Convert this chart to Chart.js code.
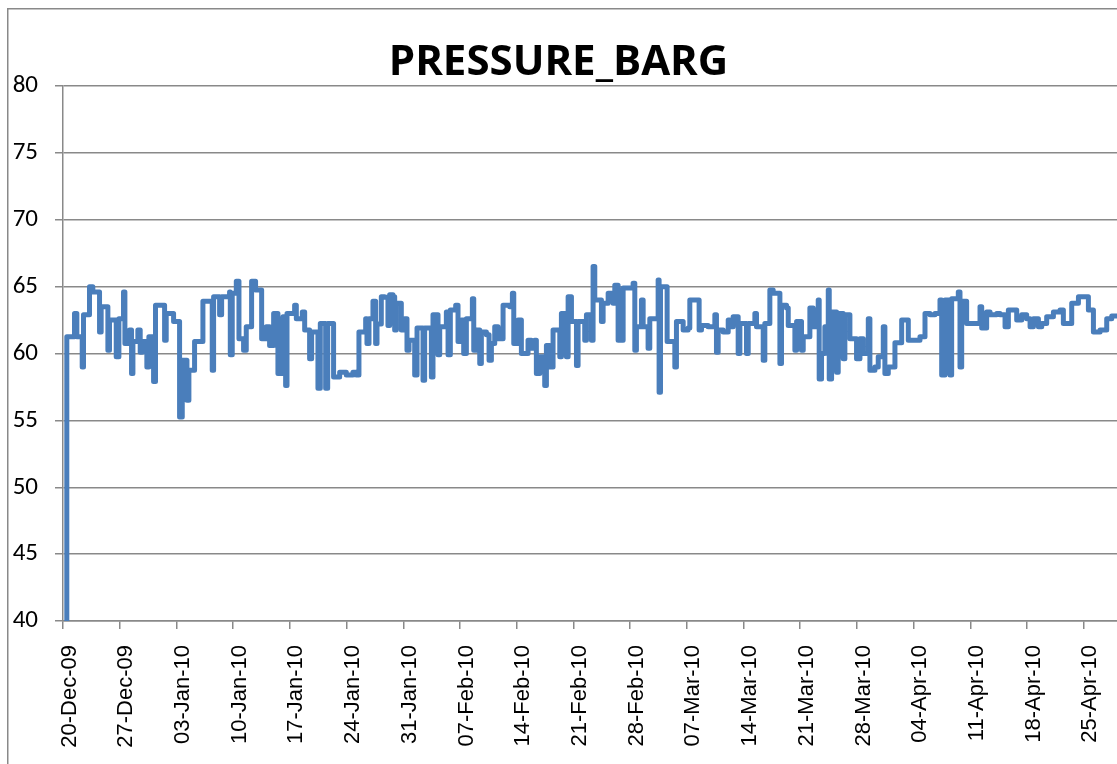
<!DOCTYPE html>
<html><head><meta charset="utf-8">
<script src="https://cdn.jsdelivr.net/npm/chart.js@4.4.1/dist/chart.umd.min.js"></script>
<style>html,body{margin:0;padding:0;background:#fff;}canvas{display:block}</style>
</head><body>
<canvas id="c" width="1117" height="764"></canvas>
<script>
const chartTitle = 'PRESSURE_BARG';
const tickDays = [0,7,14,21,28,35,42,49,56,63,70,77,84,91,98,105,112,119,126];
const tickLabels = ['20-Dec-09','27-Dec-09','03-Jan-10','10-Jan-10','17-Jan-10','24-Jan-10','31-Jan-10','07-Feb-10','14-Feb-10','21-Feb-10','28-Feb-10','07-Mar-10','14-Mar-10','21-Mar-10','28-Mar-10','04-Apr-10','11-Apr-10','18-Apr-10','25-Apr-10'];
const yTicks = [40,45,50,55,60,65,70,75,80];
const xMaxDay = 130.1;

// days since 20-Dec-09 at which each pressure level starts
const days = [
0.45,0.47,1.42,1.71,2.37,2.53,3.27,3.68,4.51,4.71,5.54,5.74,6.57,6.90,7.47,7.64,8.21,8.46,8.63,9.24,
9.53,9.78,10.35,10.60,11.18,11.42,12.54,12.74,13.65,14.39,14.72,15.30,15.54,16.24,17.27,18.42,18.59,19.33,19.58,20.56,
20.65,20.89,21.39,21.72,22.29,22.62,23.28,23.77,24.52,25.09,25.50,26.00,26.53,27.15,27.48,27.65,28.59,28.80,29.54,29.83,
30.44,30.69,31.47,31.76,32.42,32.67,33.40,34.15,34.97,35.79,36.20,36.53,37.36,37.52,37.77,38.26,38.59,38.76,39.29,39.70,
40.11,40.32,40.73,40.94,41.14,41.76,42.17,42.46,42.71,43.41,43.70,44.44,44.64,45.47,45.67,46.29,46.50,47.32,47.53,47.81,
48.47,48.76,49.17,49.46,49.79,50.53,50.70,51.02,51.44,51.64,52.26,52.59,52.88,53.29,53.70,54.32,55.14,55.47,55.64,56.17,
56.58,57.40,57.82,58.23,58.43,58.85,59.46,59.67,60.08,60.49,61.32,61.52,62.14,62.35,62.76,63.38,63.58,64.40,64.61,65.23,
65.43,65.64,66.46,66.67,67.29,67.90,68.11,68.52,69.14,70.37,70.58,70.78,71.40,71.61,72.22,72.43,73.46,73.58,73.75,74.57,
75.52,75.72,76.55,77.16,77.37,78.52,78.81,79.63,80.46,80.66,80.87,81.49,82.11,82.31,82.72,83.34,83.55,84.37,84.58,85.40,
85.60,86.43,86.63,87.25,87.66,88.49,88.69,89.31,89.52,90.34,90.55,91.16,91.37,92.19,92.60,93.22,93.34,93.63,94.04,94.46,
94.58,94.87,95.49,95.69,96.31,96.51,97.13,97.95,98.37,98.78,99.40,99.60,100.22,100.63,101.25,101.45,101.87,102.69,103.52,104.34,
105.78,106.40,107.02,107.63,108.25,108.46,108.87,109.49,109.69,110.51,110.72,110.93,111.54,113.19,113.40,114.01,114.43,115.25,115.66,116.28,
116.69,117.72,118.34,118.95,119.37,119.78,120.40,120.81,121.42,122.25,123.07,123.48,124.51,125.34,126.57,127.19,128.01,128.83,129.45,130.10
];
const pressure = [
40.0,61.25,63.0,61.25,59.0,62.9,65.0,64.6,61.6,63.5,60.25,62.5,59.75,62.6,64.6,60.75,61.75,58.5,60.9,61.75,
60.1,60.9,59.0,61.25,57.9,63.6,61.0,63.0,62.4,55.25,59.5,56.5,58.75,60.9,63.9,58.75,64.25,62.9,64.25,64.6,
59.9,64.5,65.4,61.1,60.25,62.0,65.4,64.75,61.1,62.0,60.6,63.0,58.5,62.75,57.6,63.0,63.6,62.6,63.1,61.75,
59.6,61.6,57.4,62.25,57.4,62.25,58.25,58.6,58.4,58.6,58.4,61.6,62.6,60.75,62.6,63.9,60.75,62.2,64.25,64.2,
62.1,64.4,64.25,61.75,63.75,61.75,62.6,60.25,61.0,58.4,61.9,58.0,61.9,58.25,62.9,59.9,62.0,63.1,59.9,63.25,
63.6,60.9,62.5,60.0,62.6,64.1,60.25,61.75,59.25,61.6,61.4,59.5,60.75,62.0,61.1,63.6,63.5,64.5,60.75,62.5,
60.0,61.0,60.4,61.0,58.5,59.75,57.6,60.6,59.0,61.75,59.75,63.0,59.75,64.25,62.4,59.1,62.4,61.0,62.9,61.0,
66.5,64.0,62.4,63.75,64.5,63.75,65.1,61.0,64.9,65.25,60.25,62.0,64.0,62.0,60.4,62.6,65.5,57.1,65.0,60.9,
59.0,62.4,61.75,61.9,64.0,61.75,62.1,62.0,62.9,60.1,61.75,61.6,62.5,62.0,62.75,60.0,62.25,60.0,62.25,63.0,
62.0,59.5,62.25,64.75,64.5,59.25,63.6,63.4,62.1,60.25,62.4,60.25,61.25,63.4,62.0,64.0,58.1,60.0,62.0,64.75,
58.1,63.1,58.6,63.0,59.6,62.9,61.1,59.6,61.1,60.0,62.6,58.75,59.0,59.75,62.0,58.5,59.0,60.8,62.5,61.0,
61.25,63.0,62.9,63.0,64.0,58.4,64.0,58.4,64.1,64.6,59.0,63.9,62.25,63.5,61.9,63.1,62.9,63.0,62.9,62.0,
63.25,62.5,62.9,62.6,62.0,62.6,62.0,62.25,62.75,63.1,63.25,62.25,63.75,64.25,63.25,61.6,61.75,62.6,62.8,62.8
];

const points = days.map((d, i) => ({x: d, y: pressure[i]}));
const gray = '#898989';

const framePlugin = {
  id: 'frame',
  beforeDraw(chart) {
    const ctx = chart.ctx;
    ctx.save();
    ctx.strokeStyle = gray;
    ctx.lineWidth = 1.5;
    ctx.beginPath();
    ctx.moveTo(7.75, 800);
    ctx.lineTo(7.75, 8.75);
    ctx.lineTo(1200, 8.75);
    ctx.stroke();
    ctx.restore();
  }
};

new Chart(document.getElementById('c'), {
  type: 'line',
  data: {
    datasets: [{
      data: points,
      borderColor: '#4a7ebb',
      borderWidth: 5,
      stepped: 'before',
      pointRadius: 0,
      borderCapStyle: 'round',
      borderJoinStyle: 'round',
      fill: false
    }]
  },
  options: {
    responsive: false,
    devicePixelRatio: 1,
    animation: false,
    layout: {padding: {left: 0, right: 0, top: 0, bottom: 0}},
    plugins: {
      legend: {display: false},
      tooltip: {enabled: false},
      title: {
        display: true,
        text: chartTitle,
        color: '#000',
        font: {family: "'Open Sans', 'DejaVu Sans', sans-serif", size: 42, weight: 'bold', lineHeight: 1},
        padding: {top: 42, bottom: 2}
      }
    },
    scales: {
      x: {
        type: 'linear',
        min: 0,
        max: xMaxDay,
        afterBuildTicks: (s) => { s.ticks = tickDays.map(v => ({value: v})); },
        afterFit: (s) => { s.height = 143; s.paddingLeft = 0; s.paddingRight = 0; },
        ticks: {
          autoSkip: false,
          minRotation: 90,
          maxRotation: 90,
          padding: 16,
          labelOffset: 6.5,
          color: '#000',
          font: {family: "'Liberation Sans', Arial, sans-serif", size: 22},
          callback: (v) => { const i = tickDays.indexOf(v); return i >= 0 ? tickLabels[i] : ''; }
        },
        grid: {display: true, drawOnChartArea: false, drawTicks: true, tickLength: 8, color: gray, lineWidth: 1.5},
        border: {display: true, color: gray, width: 1.5}
      },
      y: {
        min: 40,
        max: 80,
        afterBuildTicks: (s) => { s.ticks = yTicks.map(v => ({value: v})); },
        afterFit: (s) => { s.width = 63; },
        ticks: {
          padding: 17,
          color: '#000',
          font: {family: "Carlito, Lato, 'Open Sans', sans-serif", size: 25}
        },
        grid: {color: gray, lineWidth: 1.5, tickLength: 8, drawTicks: true},
        border: {display: true, color: gray, width: 1.5}
      }
    }
  },
  plugins: [framePlugin]
});
</script>
</body></html>
